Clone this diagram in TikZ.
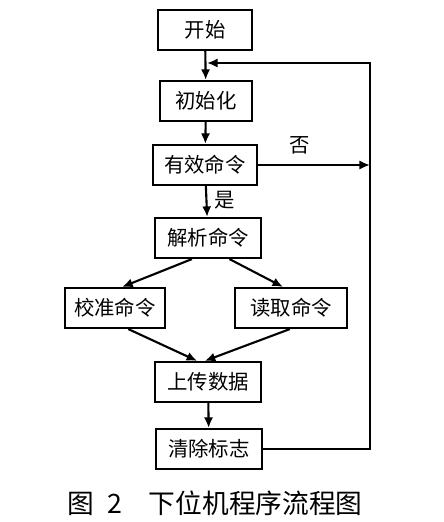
\documentclass[tikz,border=0pt]{standalone}
\usepackage{fontspec}
\newfontfamily\cjk{Noto Sans CJK SC}
\usepackage{tikz}
\usetikzlibrary{arrows.meta,calc,positioning}

\begin{document}
\begin{tikzpicture}[x=0.025cm,y=-0.025cm,
  box/.style={draw,line width=1.5pt,minimum height=1cm,inner sep=0pt,font=\cjk\fontsize{14.5}{17}\selectfont},
  flow/.style={line width=1.5pt,-{Latex[length=7.5pt,width=6.5pt]}}]
\useasboundingbox (0,0) rectangle (443,522);
\node[box,minimum width=2.33cm] (start) at (205,30) {开始};
\node[box,minimum width=2.3cm] (init) at (206,101) {初始化};
\node[box,minimum width=2.6cm] (valid) at (205,165) {有效命令};
\node[box,minimum width=2.63cm] (parse) at (208,238) {解析命令};
\node[box,minimum width=2.5cm] (cal) at (115,308) {校准命令};
\node[box,minimum width=2.8cm] (read) at (291,308) {读取命令};
\node[box,minimum width=2.65cm] (upload) at (208,382) {上传数据};
\node[box,minimum width=2.63cm] (clear) at (209,449) {清除标志};
\coordinate (top) at (370,63);
\coordinate (merge) at (207,63);
\draw[flow] (start) -- (init);
\draw[flow] (init) -- (valid);
\draw[flow] (valid) -- node[right=2pt,pos=0.45,font=\cjk\fontsize{14.5}{17}\selectfont] {是} (parse);
\draw[flow] (valid.east) -- node[above=4pt,pos=0.37,font=\cjk\fontsize{14.5}{17}\selectfont] {否} (valid.east -| top);
\draw[flow] ($(parse.south west)!0.35!(parse.south east)$) -- ($(cal.north west)!0.57!(cal.north east)$);
\draw[flow] ($(parse.south west)!0.70!(parse.south east)$) -- ($(read.north west)!0.43!(read.north east)$);
\draw[flow] ($(cal.south west)!0.63!(cal.south east)$) -- ($(upload.north west)!0.40!(upload.north east)$);
\draw[flow] ($(read.south west)!0.49!(read.south east)$) -- ($(upload.north west)!0.47!(upload.north east)$);
\draw[flow] (upload) -- (clear);
\draw[flow] (clear.east) -| (top) -- (merge);
\node[font=\cjk\fontsize{19}{22}\selectfont] (caption) at (215,503) {图\enspace 2\quad 下位机程序流程图};
\end{tikzpicture}
\end{document}
